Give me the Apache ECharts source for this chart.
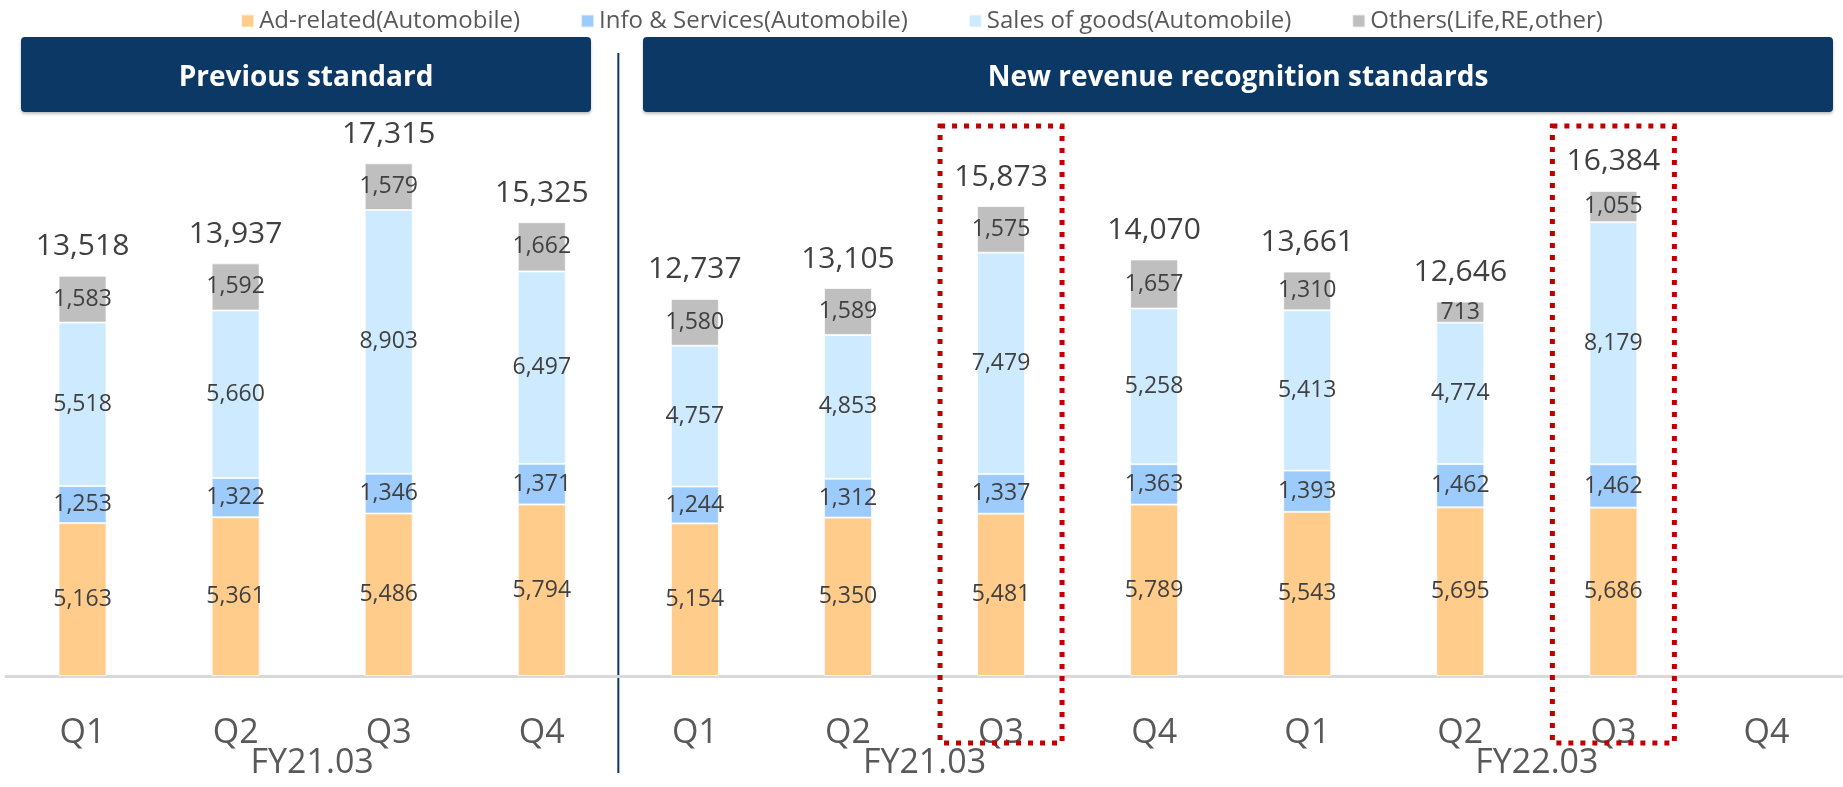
<!DOCTYPE html>
<html>
<head>
<meta charset="utf-8">
<script src="https://cdn.jsdelivr.net/npm/echarts@6/dist/echarts.min.js"></script>
<style>
  html, body { margin: 0; padding: 0; background: #fff; }
  #main { width: 1843px; height: 787px; }
</style>
</head>
<body>
<div id="main"></div>
<script>
// quarters, 4 per block (previous std FY21.03 / new std FY21.03 / new std FY22.03)
const quarters = ['Q1', 'Q2', 'Q3', 'Q4', 'Q1', 'Q2', 'Q3', 'Q4', 'Q1', 'Q2', 'Q3', 'Q4']
const fiscalYears = ['FY21.03', 'FY21.03', 'FY22.03']

const adRelated = [5163, 5361, 5486, 5794, 5154, 5350, 5481, 5789, 5543, 5695, 5686, null]
const infoServices = [1253, 1322, 1346, 1371, 1244, 1312, 1337, 1363, 1393, 1462, 1462, null]
const salesGoods = [5518, 5660, 8903, 6497, 4757, 4853, 7479, 5258, 5413, 4774, 8179, null]
const others = [1583, 1592, 1579, 1662, 1580, 1589, 1575, 1657, 1310, 713, 1055, null]
const totals = [13518, 13937, 17315, 15325, 12737, 13105, 15873, 14070, 13661, 12646, 16384, null]

// which quarters get the red dotted box
const highlighted = [6, 10]

const FONT = '"Open Sans", "Noto Sans", sans-serif'
const NAVY = '#0b3864'

var chart = echarts.init(document.getElementById('main'), null, { renderer: 'canvas' })

function segment(name, data, color) {
    return {
        name: name,
        type: 'bar',
        stack: 'rev',
        barWidth: 48,
        data: data,
        itemStyle: { color: color, borderColor: 'rgba(255,255,255,0.7)', borderWidth: 1 },
        label: {
            show: true,
            position: 'inside',
            color: '#404040',
            fontFamily: FONT,
            fontSize: 23,
            formatter: p => p.value == null ? '' : p.value.toLocaleString('en-US')
        },
        emphasis: { disabled: true }
    }
}

chart.setOption({
    animation: false,
    backgroundColor: '#fff',
    legend: {
        data: ['Ad-related(Automobile)', 'Info & Services(Automobile)', 'Sales of goods(Automobile)', 'Others(Life,RE,other)'],
        top: 4,
        left: 'center',
        itemWidth: 13,
        itemHeight: 13,
        itemGap: 60,
        icon: 'rect',
        textStyle: { color: '#595959', fontFamily: FONT, fontSize: 24 }
    },
    grid: { left: 6, right: 0, top: 143, bottom: 111 },
    xAxis: [{
        type: 'category',
        data: quarters,
        axisLine: { lineStyle: { color: '#d9d9d9', width: 3 } },
        axisTick: { show: false },
        axisLabel: { color: '#595959', fontFamily: FONT, fontSize: 34, margin: 40, interval: 0 }
    }, {
        type: 'category',
        position: 'bottom',
        data: fiscalYears,
        axisLine: { show: false },
        axisTick: { show: false },
        axisLabel: { color: '#595959', fontFamily: FONT, fontSize: 34, margin: 70, interval: 0 }
    }],
    yAxis: { type: 'value', min: 0, max: 18000, show: false },
    series: [
        segment('Ad-related(Automobile)', adRelated, '#ffcc8c'),
        segment('Info & Services(Automobile)', infoServices, '#9ccbfc'),
        segment('Sales of goods(Automobile)', salesGoods, '#cdeaff'),
        segment('Others(Life,RE,other)', others, '#bfbfbf'),
        {
            // zero-height cap that carries the total label
            name: 'Total',
            type: 'bar',
            stack: 'rev',
            barWidth: 48,
            data: totals.map(t => t == null ? null : 0),
            itemStyle: { color: 'transparent' },
            label: {
                show: true,
                position: 'top',
                distance: 14,
                color: '#404040',
                fontFamily: FONT,
                fontSize: 30,
                formatter: p => totals[p.dataIndex] == null ? '' : totals[p.dataIndex].toLocaleString('en-US')
            },
            emphasis: { disabled: true }
        }
    ]
})

// decorations placed from the axis scale
function catX(i) {
    return chart.convertToPixel({ xAxisIndex: 0 }, i)
}
const divX = (catX(3) + catX(4)) / 2

const graphics = [
    { type: 'rect', shape: { x: 21, y: 37, width: 570, height: 75, r: 4 },
      style: { fill: NAVY, shadowBlur: 3, shadowOffsetY: 2, shadowColor: 'rgba(0,0,0,0.25)' } },
    { type: 'rect', shape: { x: 643, y: 37, width: 1190, height: 75, r: 4 },
      style: { fill: NAVY, shadowBlur: 3, shadowOffsetY: 2, shadowColor: 'rgba(0,0,0,0.25)' } },
    { type: 'text', x: 306, y: 78,
      style: { text: 'Previous standard', fill: '#fff', font: 'bold 28px ' + FONT, textAlign: 'center', textVerticalAlign: 'middle' } },
    { type: 'text', x: 1238, y: 78,
      style: { text: 'New revenue recognition standards', fill: '#fff', font: 'bold 28px ' + FONT, textAlign: 'center', textVerticalAlign: 'middle' } },
    { type: 'line', shape: { x1: divX, y1: 53, x2: divX, y2: 773 },
      style: { stroke: NAVY, lineWidth: 2 } }
]
highlighted.forEach(function (i) {
    const cx = catX(i)
    graphics.push({
        type: 'rect', z: 100,
        shape: { x: cx - 61, y: 126, width: 122, height: 617 },
        style: { fill: 'none', stroke: '#c00000', lineWidth: 5, lineDash: [5, 7] }
    })
})
chart.setOption({ graphic: graphics })
</script>
</body>
</html>
